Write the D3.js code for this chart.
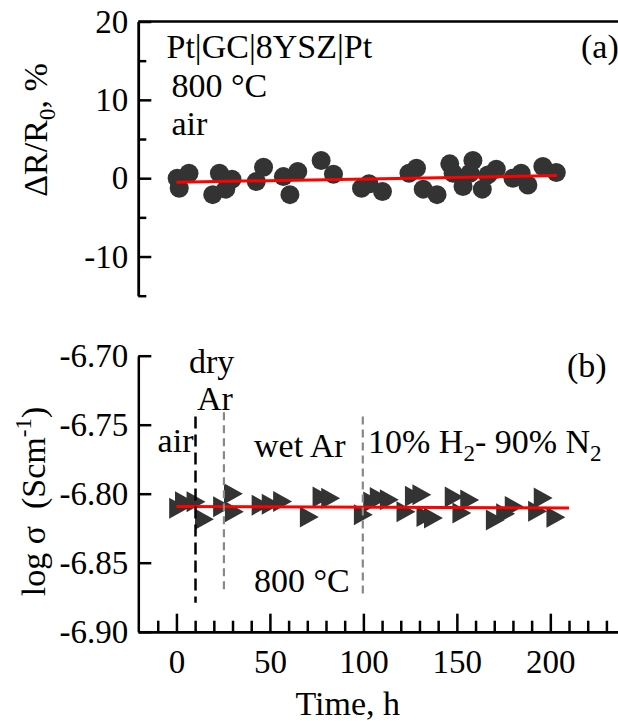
<!DOCTYPE html>
<html>
<head>
<meta charset="utf-8">
<script src="https://cdn.jsdelivr.net/npm/d3@7/dist/d3.min.js"></script>
<style>
  html, body { margin: 0; padding: 0; background: #fff; }
  svg { display: block; font-family: "Liberation Serif", "Times New Roman", serif; }
  text { white-space: pre; }
</style>
</head>
<body>
<svg id="chart" width="618" height="721"></svg>
<script>
// ---- Shared time axis (hours) ----
const timeDomain = [-20.4, 236.2];
const timeMajorTicks = [0, 50, 100, 150, 200];
const timeMinorTicks = [-10, 10, 20, 30, 40, 60, 70, 80, 90, 110, 120, 130, 140, 160, 170, 180, 190, 210, 220, 230];

// ---- Panel (a): resistance change, Pt|GC|8YSZ|Pt, 800 °C, air ----
const resDomain = [-15, 20];
const resMajorTicks = [-10, 0, 10, 20];
const resMinorTicks = [-15, -5, 5, 15];
const resTime = [0.4, 1.5, 6.7, 19.4, 23, 26.4, 29.7, 42.7, 46.6, 57.2,
                 60.7, 64.9, 77.4, 84, 99, 103, 110.2, 124.4, 128.4, 132,
                 139.4, 146.2, 148, 153.3, 157, 158.6, 163.6, 166.6, 171.1, 180,
                 184.4, 188, 196, 203.2];
const resChange = [0, -1.28, 0.64, -2.1, 0.64, -1.4, -0.13, -0.43, 1.4, 0.2,
                   -2.1, 0.85, 2.25, 0.5, -1.28, -0.7, -1.7, 0.64, 1.28, -1.4,
                   -2.1, 1.83, 0.64, -1.07, 0.64, 2.25, -1.4, 0.42, 1.15, 0,
                   0.64, -0.86, 1.48, 0.72];
const resFitTime = [0, 203.5];
const resFitValue = [-0.52, 0.33];

// ---- Panel (b): log conductivity under changing atmospheres ----
const condDomain = [-6.90, -6.70];
const condTicks = [-6.90, -6.85, -6.80, -6.75, -6.70];
const condTime = [-0.5, 2.6, 8.8, 13.3, 23, 28.8, 29.3, 43.6, 49, 55.1,
                  69.4, 76.2, 80.8, 98.3, 103.3, 106.8, 112.2, 121.1, 125.6, 129.6,
                  131.8, 135.8, 146.9, 151, 155.2, 168.9, 174.4, 179, 191.5, 194.5,
                  201.3];
const condLog = [-6.8105, -6.8058, -6.8058, -6.8185, -6.8094, -6.8000, -6.8131, -6.8083, -6.8076, -6.8056,
                 -6.8169, -6.8024, -6.8033, -6.8152, -6.8060, -6.8028, -6.8044, -6.8131, -6.8018, -6.8007,
                 -6.8165, -6.8176, -6.8024, -6.8140, -6.8045, -6.8191, -6.8145, -6.8092, -6.8128, -6.8031,
                 -6.8171];
const condFitTime = [0, 210];
const condFitValue = [-6.8092, -6.8104];

// Atmosphere switch times and the vertical extent of each marker line
const switchTime = [10.2, 25.4, 99.7];
const switchTop = [-6.744, -6.741, -6.744];
const switchBottom = [-6.879, -6.870, -6.875];

// ---- Layout ----
const svg = d3.select("#chart");
const axisX0 = 138.3, axisX1 = 618;
const x = d3.scaleLinear().domain(timeDomain).range([axisX0, axisX1]);
const yA = d3.scaleLinear().domain(resDomain).range([295.7, 21.5]);
const yB = d3.scaleLinear().domain(condDomain).range([631.7, 355.7]);

const INK = "#000";
const MARK = "#333";
const FIT = "#ff0000";
const tickFont = 33, labelFont = 34;
// plain hyphen-minus for negative tick labels
const hyphen = fmt => d => fmt(d).replace("\u2212", "-");

function styleAxis(g) {
  g.selectAll("path.domain").attr("stroke", INK).attr("stroke-width", 2.5);
  g.selectAll(".tick line").attr("stroke", INK).attr("stroke-width", 2.5);
  g.selectAll(".tick text").attr("fill", INK).attr("font-size", tickFont)
    .attr("font-family", '"Liberation Serif", "Times New Roman", serif');
  g.attr("font-family", null).attr("font-size", null);
}

// ---------- Panel (a) ----------
const gA = svg.append("g");
gA.append("g").attr("transform", `translate(${axisX0},0)`)
  .call(d3.axisLeft(yA).tickValues(resMajorTicks).tickSizeInner(-13).tickSizeOuter(0).tickPadding(10)
        .tickFormat(hyphen(d3.format("d"))))
  .call(styleAxis);
gA.append("g").attr("transform", `translate(${axisX0},0)`)
  .call(d3.axisLeft(yA).tickValues(resMinorTicks).tickSizeInner(-8).tickSizeOuter(0).tickFormat(""))
  .call(styleAxis);
// top frame line
gA.append("line")
  .attr("x1", x(timeDomain[0])).attr("x2", x(timeDomain[1]))
  .attr("y1", yA(resDomain[1])).attr("y2", yA(resDomain[1]))
  .attr("stroke", INK).attr("stroke-width", 2.5);

gA.append("g").selectAll("circle")
  .data(d3.zip(resTime, resChange))
  .join("circle")
  .attr("cx", d => x(d[0]))
  .attr("cy", d => yA(d[1]))
  .attr("r", 9.5)
  .attr("fill", MARK);

gA.append("path")
  .datum(d3.zip(resFitTime, resFitValue))
  .attr("d", d3.line().x(d => x(d[0])).y(d => yA(d[1])))
  .attr("fill", "none").attr("stroke", FIT).attr("stroke-width", 3);

// axis title
const tA = gA.append("text")
  .attr("transform", "translate(47,130) rotate(-90)")
  .attr("text-anchor", "middle").attr("font-size", labelFont).attr("fill", INK);
tA.append("tspan").text("ΔR/R");
tA.append("tspan").attr("dy", 8).attr("font-size", 23).text("0");
tA.append("tspan").attr("dy", -8).text(", %");

gA.append("text").attr("x", 166.5).attr("y", 58.3).attr("font-size", labelFont).text("Pt|GC|8YSZ|Pt");
gA.append("text").attr("x", 171.5).attr("y", 96.7).attr("font-size", labelFont).text("800 °C");
gA.append("text").attr("x", 171.5).attr("y", 135).attr("font-size", labelFont).text("air");
gA.append("text").attr("x", 581).attr("y", 58).attr("font-size", labelFont).text("(a)");

// ---------- Panel (b) ----------
const gB = svg.append("g");
gB.append("g").attr("transform", `translate(${axisX0},0)`)
  .call(d3.axisLeft(yB).tickValues(condTicks).tickSizeInner(-13).tickSizeOuter(0).tickPadding(10)
        .tickFormat(hyphen(d3.format(".2f"))))
  .call(styleAxis);

gB.append("g").attr("transform", `translate(0,${yB(condDomain[0])})`)
  .call(d3.axisBottom(x).tickValues(timeMajorTicks).tickSizeInner(-18).tickSizeOuter(0).tickPadding(18.2))
  .call(styleAxis);
gB.append("g").attr("transform", `translate(0,${yB(condDomain[0])})`)
  .call(d3.axisBottom(x).tickValues(timeMinorTicks).tickSizeInner(-11).tickSizeOuter(0).tickFormat(""))
  .call(styleAxis);

// right-pointing triangle marker
const rightTriangle = {
  draw(ctx, size) {
    const h = Math.sqrt(size), w = h * 0.9;
    ctx.moveTo(-w / 3, -h / 2);
    ctx.lineTo(2 * w / 3, 0);
    ctx.lineTo(-w / 3, h / 2);
    ctx.closePath();
  }
};
gB.append("g").selectAll("path")
  .data(d3.zip(condTime, condLog))
  .join("path")
  .attr("transform", d => `translate(${x(d[0])},${yB(d[1])})`)
  .attr("d", d3.symbol(rightTriangle, 441))
  .attr("fill", MARK);

gB.append("path")
  .datum(d3.zip(condFitTime, condFitValue))
  .attr("d", d3.line().x(d => x(d[0])).y(d => yB(d[1])))
  .attr("fill", "none").attr("stroke", FIT).attr("stroke-width", 3);

gB.append("g").selectAll("line")
  .data(d3.range(switchTime.length))
  .join("line")
  .attr("x1", i => x(switchTime[i])).attr("x2", i => x(switchTime[i]))
  .attr("y1", i => yB(switchTop[i])).attr("y2", i => yB(switchBottom[i]))
  .attr("stroke", i => i === 0 ? "#000" : "#888")
  .attr("stroke-width", i => i === 0 ? 2.5 : 2.2)
  .attr("stroke-dasharray", i => i === 0 ? "12,6" : "8,5");

// axis titles
const tB = gB.append("text")
  .attr("transform", "translate(45,501.5) rotate(-90)")
  .attr("text-anchor", "middle").attr("font-size", labelFont).attr("fill", INK);
tB.append("tspan").text("log σ  (Scm");
tB.append("tspan").attr("dy", -14).attr("font-size", 23).text("-1");
tB.append("tspan").attr("dy", 14).text(")");

gB.append("text").attr("x", 347.8).attr("y", 715)
  .attr("text-anchor", "middle").attr("font-size", labelFont).text("Time, h");

// annotations
const note = (tx, ty, s) => gB.append("text").attr("x", tx).attr("y", ty).attr("font-size", labelFont).text(s);
note(567, 376.7, "(b)");
note(189, 372.5, "dry");
note(197, 410, "Ar");
note(157.6, 451.7, "air");
note(254, 456.7, "wet Ar");
note(254, 591.7, "800 °C");
const h2 = gB.append("text").attr("x", 368).attr("y", 453.3).attr("font-size", labelFont);
h2.append("tspan").text("10% H");
h2.append("tspan").attr("dy", 8).attr("font-size", 23).text("2");
h2.append("tspan").attr("dy", -8).text("- 90% N");
h2.append("tspan").attr("dy", 8).attr("font-size", 23).text("2");
</script>
</body>
</html>
